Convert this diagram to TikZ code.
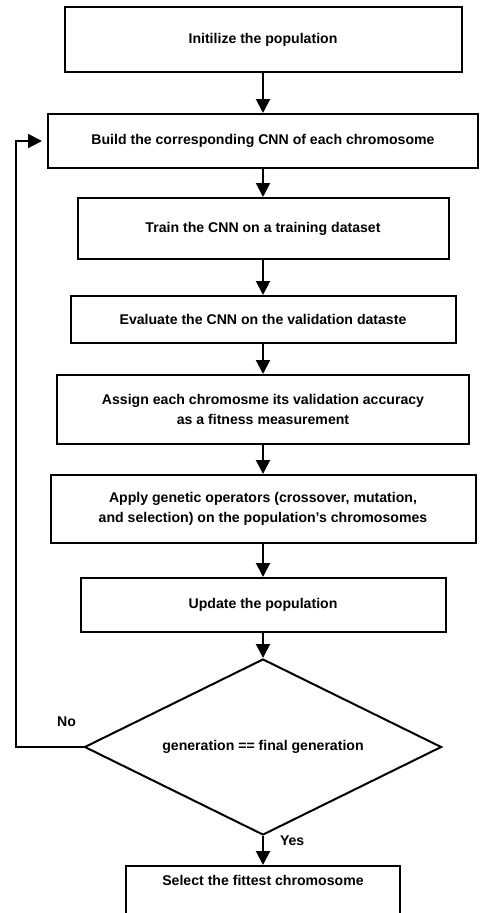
\documentclass[tikz,border=0pt]{standalone}
\usepackage{fontspec}
\setmainfont{Liberation Sans}
\usepackage{tikz}
\usetikzlibrary{positioning}
\usetikzlibrary{shapes.geometric}
\usetikzlibrary{arrows.meta}
\tikzset{%
  arrow/.style = {-{Triangle[width=14pt,length=14pt]},line width=2pt},
  box/.style = {rectangle,draw,line width=2pt,align=center,inner sep=0pt,
        font=\fontsize{14.1pt}{19.5pt}\selectfont\bfseries},
  dec/.style = {diamond,draw,line width=2pt,aspect=2,inner sep=0pt,
        minimum width=357pt,minimum height=176pt,
        font=\fontsize{14.1pt}{19.5pt}\selectfont\bfseries},
  lbl/.style = {inner sep=0pt,font=\fontsize{14.1pt}{17pt}\selectfont\bfseries}
}

\begin{document}
\begin{tikzpicture}[node distance=30pt]
                    \useasboundingbox (0,0) rectangle (486pt,-913pt);
                    \node[box,minimum width=397pt,minimum height=65pt] (init) at (263pt,-39.5pt) {Initilize the population};
                    \node[box,minimum width=430pt,minimum height=54pt] (build) [below=40pt of init] {Build the corresponding CNN of each chromosome};
                    \node[box,minimum width=371pt,minimum height=61pt] (train) [below=28pt of build] {Train the CNN on a training dataset};
                    \node[box,minimum width=385pt,minimum height=47pt] (eval) [below=35pt of train] {Evaluate the CNN on the validation dataste};
                    \node[box,minimum width=412pt,minimum height=69pt] (assign) [below=of eval] {Assign each chromosme its validation accuracy\\as a fitness measurement};
                    \node[box,minimum width=425pt,minimum height=68pt] (apply) [below=29pt of assign] {Apply genetic operators (crossover, mutation,\\and selection) on the population’s chromosomes};
                    \node[box,minimum width=365pt,minimum height=54pt] (update) [below=33pt of apply] {Update the population};
                    \node[dec] (check) [below=25pt of update] {generation == final generation};
                    \node[box,minimum width=274pt,text height=19pt,text depth=60pt] (select) [below=29pt of check] {Select the fittest chromosome};
                    \coordinate[left=68pt of check.west] (back);

                    \draw[arrow] (init) -- (build);
                    \draw[arrow] (build) -- (train);
                    \draw[arrow] (train) -- (eval);
                    \draw[arrow] (eval) -- (assign);
                    \draw[arrow] (assign) -- (apply);
                    \draw[arrow] (apply) -- (update);
                    \draw[arrow] (update) -- (check);

                    \draw[arrow] (check) -- node[lbl,pos=0.17,right=16pt] {Yes} (select);
                    \draw[arrow,shorten >=5pt] (check.west) -- node[lbl,pos=0.25,above=19pt] {No} (back) |- (build.west);
                 \end{tikzpicture}
\end{document}
